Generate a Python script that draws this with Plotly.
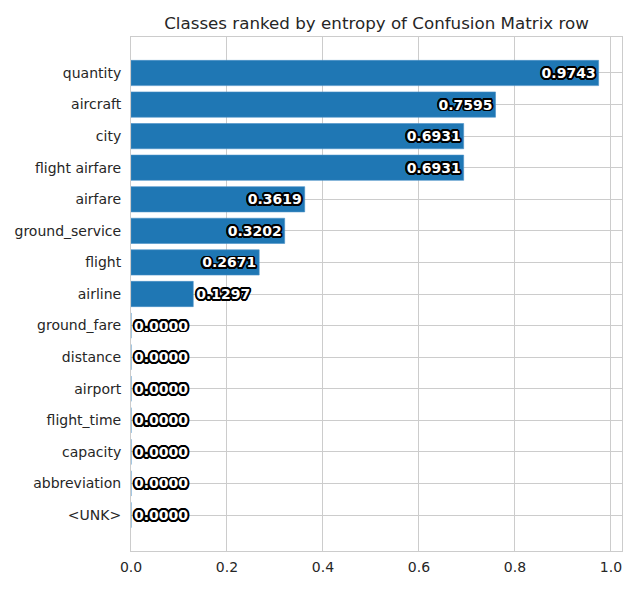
import plotly.graph_objects as go

# classes ordered top to bottom, with entropy of their confusion matrix row
classes = ["quantity", "aircraft", "city", "flight airfare", "airfare",
           "ground_service", "flight", "airline", "ground_fare", "distance",
           "airport", "flight_time", "capacity", "abbreviation", "<UNK>"]
entropy = [0.9743, 0.7595, 0.6931, 0.6931, 0.3619, 0.3202, 0.2671, 0.1297,
           0.0, 0.0, 0.0, 0.0, 0.0, 0.0, 0.0]

labels = ["%.4f" % v for v in entropy]
# big bars get the label inside the end, small ones just outside
positions = ["inside" if v > 0.2 else "outside" for v in entropy]

# fake a stroke round the label text with a ring of shadows
d = 1.8
offs = [(d, 0), (-d, 0), (0, d), (0, -d), (1.3, 1.3), (-1.3, 1.3),
        (1.3, -1.3), (-1.3, -1.3), (d, 0.8), (-d, 0.8), (d, -0.8),
        (-d, -0.8), (0.8, d), (-0.8, d), (0.8, -d), (-0.8, -d)]
outline = ", ".join("%.1fpx %.1fpx 0 #000" % o for o in offs)
label_font = dict(family="DejaVu Sans", size=14, color="white",
                  weight="bold", shadow=outline)

fig = go.Figure(go.Bar(
    x=entropy, y=classes, orientation="h",
    marker=dict(color="#1f77b4", line=dict(width=0.6, color="#4a90c8")),
    text=labels, textposition=positions,
    insidetextanchor="end", constraintext="none", cliponaxis=False,
    insidetextfont=label_font, outsidetextfont=label_font,
))

# the page body adds 8px round the figure, so size it down to fit the window
fig.update_layout(
    width=624, height=574,
    margin=dict(l=123, r=10, t=29, b=31),
    paper_bgcolor="white", plot_bgcolor="white",
    font=dict(family="DejaVu Sans", size=14, color="#262626"),
    title=dict(text="Classes ranked by entropy of Confusion Matrix row",
               x=(123 + 614) / 2 / 624, xanchor="center", y=1 - 15 / 574,
               yanchor="middle", font=dict(size=16.7, color="#262626")),
    bargap=0.2, showlegend=False,
)
fig.update_xaxes(range=[0, 1.023], tickvals=[0, 0.2, 0.4, 0.6, 0.8, 1.0],
                 ticktext=["0.0", "0.2", "0.4", "0.6", "0.8", "1.0"],
                 showgrid=True, gridcolor="#cccccc", gridwidth=1,
                 zeroline=False, showline=True, linecolor="#cccccc",
                 mirror=True, ticks="", ticklabelstandoff=3, automargin=False)
fig.update_yaxes(categoryorder="array", categoryarray=classes,
                 range=[15.14, -1.14], showgrid=True, gridcolor="#cccccc",
                 gridwidth=1, zeroline=False, showline=True,
                 linecolor="#cccccc", mirror=True, ticks="",
                 ticklabelstandoff=6, automargin=False)

fig.write_html("out.html")
